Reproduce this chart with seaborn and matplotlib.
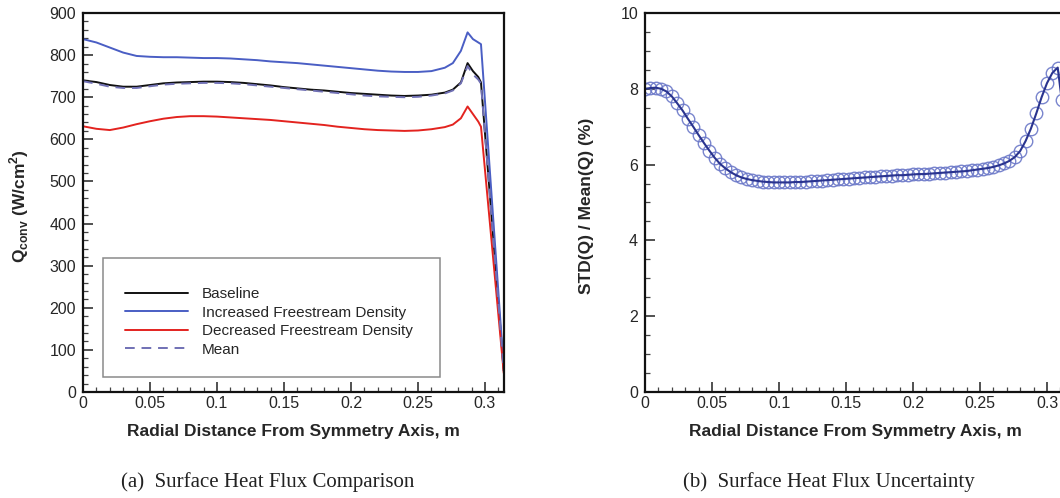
import numpy as np
import pandas as pd
import matplotlib
matplotlib.use("Agg")
import matplotlib.pyplot as plt
from matplotlib.patches import Rectangle
from matplotlib.ticker import MultipleLocator, FixedLocator, FixedFormatter
import seaborn as sns

# ---------------- data: left panel ----------------
r_left = [0, 0.01, 0.02, 0.03, 0.04, 0.05, 0.06, 0.07, 0.08, 0.09, 0.10, 0.11, 0.12,
          0.13, 0.14, 0.15, 0.16, 0.17, 0.18, 0.19, 0.20, 0.21, 0.22, 0.23, 0.24,
          0.25, 0.26, 0.27, 0.276, 0.282, 0.287, 0.291, 0.295, 0.297, 0.314]
q_baseline = [740, 736, 729, 725, 725, 729, 733, 735, 736, 737, 737, 736, 734,
              731, 728, 724, 721, 718, 716, 713, 710, 708, 706, 704, 703,
              704, 706, 711, 718, 735, 781, 762, 748, 735, 50]
q_increased = [838, 830, 818, 806, 798, 796, 795, 795, 794, 793, 793, 792, 790,
               788, 785, 783, 781, 778, 775, 772, 769, 766, 763, 761, 760,
               760, 762, 770, 781, 810, 854, 838, 830, 826, 55]
q_decreased = [631, 625, 622, 628, 636, 643, 649, 653, 655, 655, 654, 652, 650,
               648, 646, 643, 640, 637, 634, 630, 627, 624, 622, 621, 620,
               621, 624, 629, 635, 650, 678, 660, 642, 630, 45]
q_mean = [738, 732, 725, 722, 722, 726, 730, 732, 733, 734, 734, 733, 731,
          728, 725, 722, 719, 716, 713, 710, 707, 704, 702, 701, 700,
          701, 704, 709, 716, 733, 774, 754, 742, 732, 50]
series_names = ["Baseline", "Increased Freestream Density",
                "Decreased Freestream Density", "Mean"]

# ---------------- data: right panel ----------------
r_right = [0.000, 0.004, 0.008, 0.012, 0.016, 0.020, 0.024, 0.028, 0.032, 0.036,
           0.040, 0.044, 0.048, 0.052, 0.056, 0.060, 0.064, 0.068, 0.072, 0.076,
           0.080, 0.084, 0.088, 0.092, 0.096, 0.100, 0.104, 0.108, 0.112, 0.116,
           0.120, 0.124, 0.128, 0.132, 0.136, 0.140, 0.144, 0.148, 0.152, 0.156,
           0.160, 0.164, 0.168, 0.172, 0.176, 0.180, 0.184, 0.188, 0.192, 0.196,
           0.200, 0.204, 0.208, 0.212, 0.216, 0.220, 0.224, 0.228, 0.232, 0.236,
           0.240, 0.244, 0.248, 0.252, 0.256, 0.260, 0.264, 0.268, 0.272, 0.276,
           0.280, 0.284, 0.288, 0.292, 0.296, 0.300, 0.304, 0.308, 0.311]
std_pct = [8.00, 8.02, 8.03, 8.00, 7.93, 7.80, 7.62, 7.43, 7.21, 7.00,
           6.78, 6.57, 6.37, 6.18, 6.02, 5.90, 5.80, 5.72, 5.66, 5.62,
           5.59, 5.57, 5.55, 5.54, 5.53, 5.53, 5.53, 5.53, 5.54, 5.54,
           5.55, 5.56, 5.57, 5.58, 5.59, 5.60, 5.61, 5.62, 5.63, 5.64,
           5.65, 5.66, 5.67, 5.68, 5.69, 5.70, 5.71, 5.72, 5.72, 5.73,
           5.74, 5.75, 5.75, 5.76, 5.77, 5.78, 5.79, 5.80, 5.81, 5.82,
           5.83, 5.85, 5.87, 5.89, 5.91, 5.94, 5.98, 6.03, 6.10, 6.20,
           6.36, 6.62, 6.95, 7.35, 7.78, 8.15, 8.42, 8.56, 7.70]

x_ticks = [0, 0.05, 0.1, 0.15, 0.2, 0.25, 0.3]
x_tick_labels = ["0", "0.05", "0.1", "0.15", "0.2", "0.25", "0.3"]

# ---------------- style ----------------
sns.set_theme(style="white")
plt.rcParams["font.family"] = ["Liberation Sans", "DejaVu Sans"]
plt.rcParams["xtick.direction"] = "in"
plt.rcParams["ytick.direction"] = "in"

W, H = 1060, 498
fig = plt.figure(figsize=(W / 100, H / 100), dpi=100)
fig.patch.set_facecolor("white")

def px_axes(x0, x1, ytop, ybot):
    return fig.add_axes([x0 / W, (H - ybot) / H, (x1 - x0) / W, (ybot - ytop) / H])

ax1 = px_axes(83, 504, 13, 392)
ax2 = px_axes(645, 1066, 13, 392)

df_left = pd.DataFrame({"r": r_left, "Baseline": q_baseline,
                        "Increased Freestream Density": q_increased,
                        "Decreased Freestream Density": q_decreased,
                        "Mean": q_mean})

colors = {"Baseline": "#111111", "Increased Freestream Density": "#4a5ec4",
          "Decreased Freestream Density": "#e3231f", "Mean": "#7070b4"}

for name in series_names:
    kw = dict(lw=1.4)
    if name == "Mean":
        kw = dict(lw=1.4, dashes=(5, 3.5))
    sns.lineplot(data=df_left, x="r", y=name, ax=ax1, color=colors[name],
                 label=name, estimator=None, sort=False, **kw)

df_right = pd.DataFrame({"r": r_right, "std": std_pct})
sns.lineplot(data=df_right, x="r", y="std", ax=ax2, estimator=None, sort=False,
             linestyle="none", marker="o", markersize=9,
             markerfacecolor="none", markeredgecolor="#6b78c8",
             markeredgewidth=1.0, alpha=0.9)
sns.lineplot(data=df_right, x="r", y="std", ax=ax2, estimator=None, sort=False,
             color="#2a348f", lw=1.5)

xmax = (504 - 83) / 1340.0
for ax in (ax1, ax2):
    ax.set_xlim(0, xmax)
    ax.xaxis.set_major_locator(FixedLocator(x_ticks))
    ax.xaxis.set_major_formatter(FixedFormatter(x_tick_labels))
    ax.xaxis.set_minor_locator(MultipleLocator(0.01))
    for s in ax.spines.values():
        s.set_color("#111111")
        s.set_linewidth(1.6)
    ax.tick_params(which="major", length=7.5, width=1.1, color="#222222",
                   labelsize=11.5, pad=5, bottom=True, left=True,
                   top=False, right=False)
    ax.tick_params(which="minor", length=3.5, width=0.9, color="#444444",
                   bottom=True, left=True, top=False, right=False)
    ax.tick_params(axis="x", pad=3)
    ax.set_xlabel("Radial Distance From Symmetry Axis, m", fontsize=12.5,
                  fontweight="bold", labelpad=9)
    ax.grid(False)

ax1.set_ylim(0, 900)
ax1.yaxis.set_major_locator(MultipleLocator(100))
ax1.yaxis.set_minor_locator(MultipleLocator(20))
ax1.set_ylabel(r"Q$_{\mathregular{conv}}$ (W/cm$^{\mathregular{2}}$)",
               fontsize=12.5, fontweight="bold")
ax1.yaxis.set_label_coords(-0.124, 0.49)

ax2.set_ylim(0, 10)
ax2.yaxis.set_major_locator(MultipleLocator(2))
ax2.yaxis.set_minor_locator(MultipleLocator(0.5))
ax2.set_ylabel("STD(Q) / Mean(Q) (%)", fontsize=12.5, fontweight="bold")
ax2.yaxis.set_label_coords(-0.121, 0.49)

# legend
handles, labels = ax1.get_legend_handles_labels()
leg = ax1.legend(handles, labels, loc="upper left",
                 bbox_to_anchor=((125 - 83) / 421, (392 - 287) / 379),
                 frameon=False, fontsize=11, borderpad=0, borderaxespad=0,
                 handlelength=4.1, handletextpad=0.95, labelspacing=0.3)
ax1.add_patch(Rectangle(((103 - 83) / 421, (392 - 377) / 379),
                        (440 - 103) / 421, (377 - 258) / 379,
                        transform=ax1.transAxes, fill=False,
                        edgecolor="#8a8a8a", lw=1.1, zorder=5))

# captions
fig.text(268 / W, 1 - 482 / H, "(a)  Surface Heat Flux Comparison",
         ha="center", va="center", fontsize=15, family="Liberation Serif",
         color="#222222")
fig.text(829 / W, 1 - 482 / H, "(b)  Surface Heat Flux Uncertainty",
         ha="center", va="center", fontsize=15, family="Liberation Serif",
         color="#222222")

fig.savefig("out.png", dpi=100)
